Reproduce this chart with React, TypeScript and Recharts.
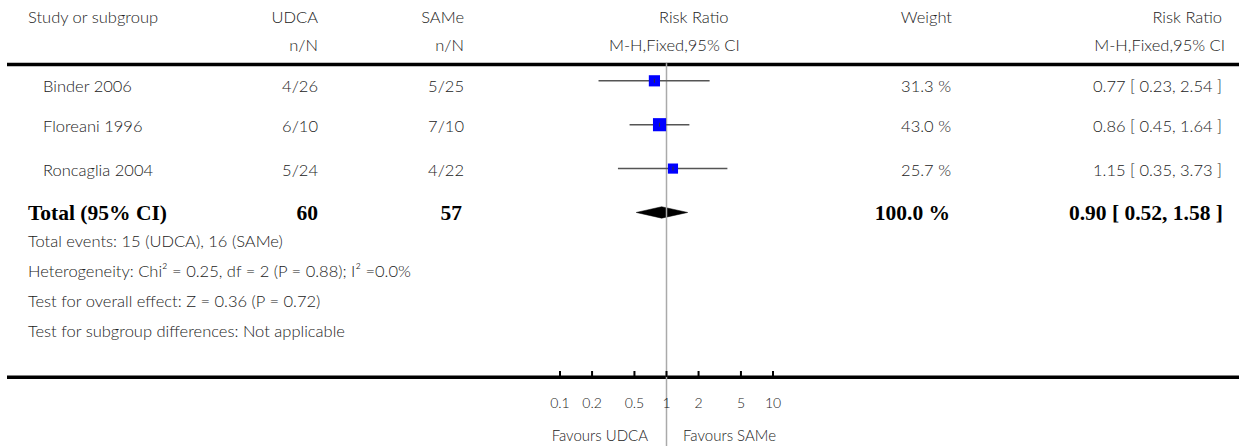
import {
  ComposedChart,
  Scatter,
  ErrorBar,
  Area,
  XAxis,
  YAxis,
  ReferenceLine,
  Customized,
} from "recharts";

const studies = ["Binder 2006", "Floreani 1996", "Roncaglia 2004"];
const udcaEvents = [4, 6, 5];
const udcaTotal = [26, 10, 24];
const sameEvents = [5, 7, 4];
const sameTotal = [25, 10, 22];
const weights = [31.3, 43.0, 25.7];
const riskRatio = [0.77, 0.86, 1.15];
const ciLow = [0.23, 0.45, 0.35];
const ciHigh = [2.54, 1.64, 3.73];

const totalUdca = 60;
const totalSame = 57;
const totalWeight = 100.0;
const totalRR = 0.9;
const totalLow = 0.52;
const totalHigh = 1.58;

const xTicks = [0.1, 0.2, 0.5, 1, 2, 5, 10];
const footnotes = [
  "Total events: 15 (UDCA), 16 (SAMe)",
  "Heterogeneity: Chi² = 0.25, df = 2 (P = 0.88); I² =0.0%",
  "Test for overall effect: Z = 0.36 (P = 0.72)",
  "Test for subgroup differences: Not applicable",
];

const W = 1239;
const H = 446;
const SANS = "Lato, 'Open Sans', sans-serif";
const SERIF = "'Liberation Serif', 'DejaVu Serif', serif";
const TEXT = "#222";

const rows = studies.map((name, i) => ({
  name,
  row: i,
  rr: riskRatio[i],
  weight: weights[i],
  ci: [riskRatio[i] - ciLow[i], ciHigh[i] - riskRatio[i]],
}));

const totalRow = studies.length;
const diamond = [
  { rr: totalLow, band: [totalRow, totalRow] },
  { rr: totalRR, band: [totalRow - 0.13, totalRow + 0.13] },
  { rr: totalHigh, band: [totalRow, totalRow] },
];

const fmt = (v: number) => v.toFixed(2);
const rowBaselines = [92, 132, 176];

const Box = (props: any) => {
  const { cx, cy, payload } = props;
  const s = 2 * Math.sqrt(payload.weight);
  return <rect x={cx - s / 2} y={cy - s / 2} width={s} height={s} fill="#0000ff" />;
};

const Nub = (props: any) => {
  const { cx, cy } = props;
  return <line x1={cx} x2={cx} y1={cy - 2} y2={cy + 2} stroke="#333" strokeWidth={1} />;
};

const Tick = (props: any) => {
  const { x, y, payload } = props;
  return (
    <g>
      <line x1={x} x2={x} y1={y - 6} y2={y} stroke="#000" strokeWidth={2} />
      <text
        x={x}
        y={y + 31}
        textAnchor="middle"
        fontFamily={SANS}
        fontWeight={300}
        fontSize={14}
        fill={TEXT}
      >
        {payload.value}
      </text>
    </g>
  );
};

const Table = () => (
  <g fontFamily={SANS} fontWeight={300} fontSize={16.5} fill={TEXT}>
    <text x={28} y={23}>Study or subgroup</text>
    <text x={318} y={23} textAnchor="end">UDCA</text>
    <text x={464} y={23} textAnchor="end">SAMe</text>
    <text x={659} y={23}>Risk Ratio</text>
    <text x={952} y={23} textAnchor="end">Weight</text>
    <text x={1222} y={23} textAnchor="end">Risk Ratio</text>
    <text x={318} y={51} textAnchor="end">n/N</text>
    <text x={464} y={51} textAnchor="end">n/N</text>
    <text x={609} y={51}>M-H,Fixed,95% CI</text>
    <text x={1225} y={51} textAnchor="end">M-H,Fixed,95% CI</text>

    <line x1={7} x2={W} y1={64.5} y2={64.5} stroke="#000" strokeWidth={3.5} />
    <line x1={7} x2={W} y1={377.3} y2={377.3} stroke="#000" strokeWidth={3.5} />

    {studies.map((s, i) => (
      <g key={s}>
        <text x={43} y={rowBaselines[i]}>{s}</text>
        <text x={318} y={rowBaselines[i]} textAnchor="end">{`${udcaEvents[i]}/${udcaTotal[i]}`}</text>
        <text x={464} y={rowBaselines[i]} textAnchor="end">{`${sameEvents[i]}/${sameTotal[i]}`}</text>
        <text x={951} y={rowBaselines[i]} textAnchor="end">{`${weights[i].toFixed(1)} %`}</text>
        <text x={1222} y={rowBaselines[i]} textAnchor="end">
          {`${fmt(riskRatio[i])} [ ${fmt(ciLow[i])}, ${fmt(ciHigh[i])} ]`}
        </text>
      </g>
    ))}

    <g fontFamily={SERIF} fontWeight="bold" fontSize={21.5} fill="#000">
      <text x={28} y={220}>Total (95% CI)</text>
      <text x={318} y={220} textAnchor="end">{totalUdca}</text>
      <text x={462} y={220} textAnchor="end">{totalSame}</text>
      <text x={950} y={220} textAnchor="end">{`${totalWeight.toFixed(1)} %`}</text>
      <text x={1223} y={220} textAnchor="end">
        {`${fmt(totalRR)} [ ${fmt(totalLow)}, ${fmt(totalHigh)} ]`}
      </text>
    </g>

    {footnotes.map((f, i) => (
      <text key={f} x={28} y={247 + i * 30}>{f}</text>
    ))}

    <text x={648} y={441} textAnchor="end" fontSize={15}>Favours UDCA</text>
    <text x={683} y={441} fontSize={15}>Favours SAMe</text>
  </g>
);

export default function App() {
  return (
    <div style={{ position: "absolute", left: 0, top: 0, background: "#fff" }}>
      <ComposedChart
        width={W}
        height={H}
        margin={{ top: 15, right: 466, bottom: 0, left: 560 }}
      >
        <XAxis
          type="number"
          dataKey="rr"
          scale="log"
          domain={[0.1, 10]}
          allowDataOverflow
          ticks={xTicks}
          interval={0}
          axisLine={false}
          tickLine={false}
          tickSize={0}
          tickMargin={0}
          height={69}
          tick={<Tick />}
        />
        <YAxis type="number" dataKey="row" domain={[-1.5, 6.75]} reversed hide />
        <ReferenceLine
          segment={[
            { x: 1, y: -0.4 },
            { x: 1, y: 8.4 },
          ]}
          ifOverflow="visible"
          stroke="#aaaaaa"
          strokeWidth={1.5}
        />
        <Customized component={Table} />
        <Area
          data={diamond}
          dataKey="band"
          type="linear"
          fill="#000"
          fillOpacity={1}
          stroke="#000"
          strokeWidth={0.5}
          isAnimationActive={false}
        />
        <Scatter data={rows} dataKey="row" shape={<Box />} isAnimationActive={false} />
        <Scatter data={rows} dataKey="row" shape={<Nub />} isAnimationActive={false}>
          <ErrorBar dataKey="ci" direction="x" width={0} stroke="#555" strokeWidth={1.5} />
        </Scatter>
      </ComposedChart>
    </div>
  );
}
